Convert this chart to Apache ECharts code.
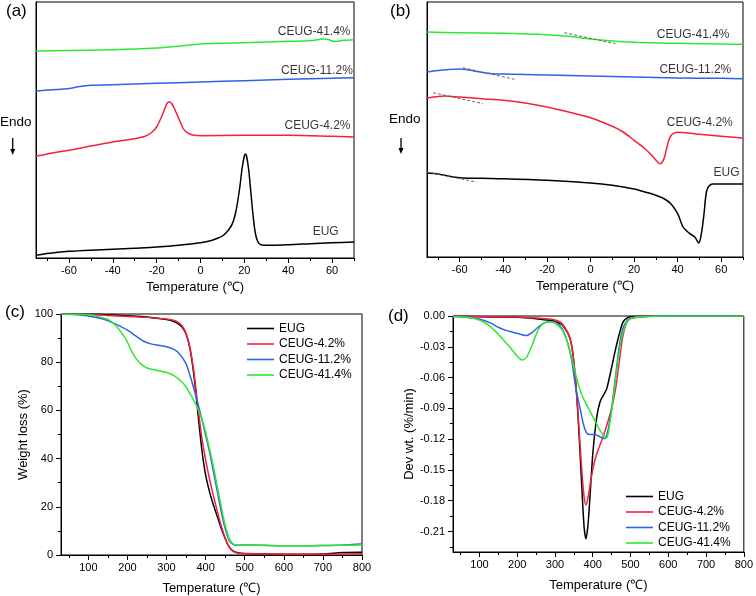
<!DOCTYPE html>
<html><head><meta charset="utf-8">
<script src="https://cdn.jsdelivr.net/npm/echarts@6/dist/echarts.min.js"></script>
<style>html,body{margin:0;padding:0;background:#fff}#c{width:756px;height:596px}</style>
</head><body><div id="c"></div>
<script>
// ---------- names ----------
const seriesNames = ['EUG', 'CEUG-4.2%', 'CEUG-11.2%', 'CEUG-41.4%'];

// ---------- tick labels ----------
const dscMajorTicks = [-60, -40, -20, 0, 20, 40, 60];
const dscMinorTicks = [-70, -50, -30, -10, 10, 30, 50, 70];
const tgaMajorTicks = [100, 200, 300, 400, 500, 600, 700, 800];
const tgaMinorTicks = [50, 150, 250, 350, 450, 550, 650, 750];
const dtgMajorTicksY = [0, -0.03, -0.06, -0.09, -0.12, -0.15, -0.18, -0.21];
const dtgMinorTicksY = [-0.015, -0.045, -0.075, -0.105, -0.135, -0.165, -0.195, -0.225];

// ---------- (a) DSC cooling, arbitrary heat-flow units ----------
const a_EUG = [[-75,2.7],[-70,4.5],[-65,5.8],[-60,6.7],[-50,7.8],[-40,8.7],[-30,9.8],[-20,11],[-10,12.8],[0,15.3],[5,17.5],[8,20],[10,22],[12,26],[14,32],[15,37],[16,45],[17,57],[18,72],[19,90],[20,102],[20.5,104],[21,102],[22,88],[23,65],[24,42],[25,25],[26,17],[27,14],[28,13],[30,12.8],[40,13.3],[50,14.3],[60,15.3],[70,16]];
const a_C42 = [[-75,101.7],[-70,104],[-65,106],[-60,107.7],[-50,112],[-40,116],[-30,119.3],[-25,122],[-22,126],[-20,131],[-18,140],[-17,145],[-16,151],[-15,155.5],[-14,156],[-13,154],[-12,150],[-11,145],[-10,140],[-9,135],[-8,130],[-7,127],[-5,124],[-3,122.7],[0,122.3],[20,122.7],[40,122.7],[60,121.7],[70,121]];
const a_C112 = [[-75,167],[-70,168],[-65,168.5],[-60,169.5],[-55,171.5],[-50,172.7],[-40,173.3],[-20,174.7],[0,176],[20,177.3],[40,178.7],[60,179.7],[70,180.3]];
const a_C414 = [[-75,207],[-60,207.5],[-40,208.3],[-20,210],[-10,211.7],[0,214],[10,214.8],[20,215.3],[40,216.7],[50,217.3],[54,218.5],[56,219],[58,218.7],[60,217],[61,216.5],[63,217],[65,217.7],[70,218.3]];
const a_labels = [['CEUG-41.4%', 68.4, 226], ['CEUG-11.2%', 69.5, 187.7], ['CEUG-4.2%', 68.4, 132], ['EUG', 63, 26]];

// ---------- (b) DSC heating ----------
const b_EUG = [[-75,84],[-70,83],[-67,81.7],[-60,79.3],[-50,78.7],[-40,78.3],[-20,76.7],[0,74],[10,71.7],[20,68],[25,65],[30,61.7],[34,58],[37,53],[40,43.3],[42.5,30],[44,26.5],[45.6,23.3],[47.9,20],[49.7,14],[50.9,23.3],[52.1,43],[53.2,65],[54.4,71],[56.2,73],[60,73],[70,73]];
const b_C42 = [[-75,159],[-70,160.5],[-67,161],[-60,160],[-50,158.3],[-40,156.7],[-30,154],[-20,150],[-10,145],[0,139.3],[10,130.7],[15,125],[20,116.7],[25,108.3],[28,102],[30,97],[31,94.5],[32,93.3],[33,95],[34,100],[35,109],[36,117],[37,121.5],[38,123.3],[40,124.7],[45,124],[50,122.7],[60,120.7],[70,119]];
const b_C112 = [[-75,185],[-70,186.5],[-65,187.5],[-60,188],[-57,187.5],[-55,186.7],[-50,184.7],[-45,183.3],[-40,183],[-20,182],[0,181],[20,180],[40,179],[60,178.7],[70,178.3]];
const b_C414 = [[-75,225],[-60,224.3],[-40,223.7],[-20,222.3],[-10,220.7],[0,218],[10,216],[20,214.7],[40,213.7],[60,213],[70,212.7]];
const b_tangents = [[[-12,224.3],[11.4,213.3]], [[-58.5,189.3],[-34.9,177.7]], [[-72.2,164.3],[-49.4,153.3]], [[-75,85],[-52.4,75]]];
const b_labels = [['CEUG-41.4%', 63.8, 222.7], ['CEUG-11.2%', 64.6, 187.3], ['CEUG-4.2%', 65.3, 134.3], ['EUG', 68.4, 84]];

// ---------- (c) TGA weight (%) ----------
const c_EUG = [[30,100],[100,100],[150,99.7],[200,99.3],[250,98.8],[300,97.7],[320,96.8],[330,95.9],[340,94.5],[350,91.7],[360,85.5],[370,74.5],[380,59.3],[390,44.1],[400,33.1],[410,26.2],[420,20.7],[430,15.9],[440,11],[450,6.9],[460,3.4],[470,1.7],[480,1],[500,0.6],[600,0.3],[700,0.4],[750,1],[800,1.1]];
const c_C42 = [[30,100],[100,99.8],[150,99.4],[200,99],[250,98.6],[300,97.9],[320,97.3],[330,96.5],[340,95],[350,92],[360,86],[370,76],[380,62],[390,49],[400,39.5],[410,31.5],[420,24.5],[430,18],[440,12],[450,7],[460,3.5],[470,1.5],[480,0.8],[500,0.5],[600,0.3],[700,0.3],[800,0.5]];
const c_C112 = [[30,100],[60,99.8],[100,99.2],[130,98.2],[150,97.2],[170,95.8],[200,93.3],[220,91],[240,88.8],[260,87.6],[280,87],[300,86.4],[320,85.2],[330,84],[340,82],[350,79.3],[360,74.5],[370,69],[380,63],[390,56.6],[400,49.7],[410,42.8],[420,34.5],[430,26.2],[440,17.9],[450,11],[460,6.2],[470,4.4],[480,4],[500,4.2],[600,3.8],[700,3.9],[800,4.6]];
const c_C414 = [[30,100],[100,99.8],[120,99.2],[150,97.7],[170,95.2],[190,91],[200,88.3],[210,84.8],[220,82],[230,80],[240,78.6],[250,77.6],[270,76.8],[300,75.7],[320,74.3],[340,71.7],[350,69.7],[360,66.9],[370,64.1],[380,60.7],[390,56.6],[400,51],[410,44.1],[420,36.6],[430,28.3],[440,20],[450,12.4],[460,6.9],[470,4.6],[480,4.1],[500,4.1],[600,3.8],[700,3.9],[800,4.2]];

// ---------- (d) DTG (%/min) ----------
const d_EUG = [[30,0],[100,-0.0007],[200,-0.0013],[250,-0.0026],[280,-0.004],[300,-0.0052],[320,-0.009],[340,-0.022],[350,-0.045],[360,-0.091],[370,-0.159],[377,-0.205],[382,-0.217],[387,-0.205],[392,-0.18],[400,-0.135],[410,-0.1],[419,-0.084],[430,-0.076],[437,-0.071],[450,-0.05],[460,-0.033],[470,-0.018],[480,-0.006],[490,-0.002],[500,-0.0007],[550,0],[800,0]];
const d_C42 = [[30,0],[100,-0.0005],[200,-0.001],[250,-0.002],[300,-0.004],[320,-0.008],[340,-0.022],[350,-0.045],[360,-0.09],[370,-0.145],[377,-0.176],[382,-0.184],[387,-0.178],[395,-0.16],[402,-0.146],[410,-0.135],[420,-0.125],[428,-0.117],[440,-0.103],[450,-0.09],[460,-0.072],[470,-0.045],[480,-0.019],[490,-0.006],[500,-0.002],[550,0],[800,0]];
const d_C112 = [[30,-0.0005],[60,-0.001],[80,-0.002],[100,-0.003],[130,-0.007],[150,-0.011],[170,-0.014],[190,-0.016],[210,-0.018],[225,-0.019],[240,-0.016],[255,-0.011],[270,-0.007],[285,-0.0055],[300,-0.006],[320,-0.013],[335,-0.028],[345,-0.045],[355,-0.07],[367,-0.091],[375,-0.105],[384,-0.114],[395,-0.1155],[405,-0.1155],[415,-0.117],[425,-0.119],[432,-0.1195],[440,-0.112],[450,-0.09],[460,-0.06],[470,-0.03],[480,-0.012],[490,-0.005],[500,-0.0025],[530,-0.001],[580,0],[800,0]];
const d_C414 = [[30,-0.0005],[60,-0.001],[80,-0.002],[100,-0.004],[120,-0.008],[140,-0.014],[160,-0.022],[180,-0.03],[200,-0.039],[213,-0.0428],[225,-0.04],[240,-0.028],[255,-0.014],[270,-0.007],[285,-0.0055],[300,-0.007],[320,-0.014],[335,-0.028],[350,-0.05],[360,-0.064],[370,-0.076],[380,-0.084],[390,-0.091],[400,-0.098],[410,-0.105],[420,-0.112],[430,-0.117],[437,-0.119],[445,-0.105],[455,-0.078],[465,-0.048],[475,-0.024],[485,-0.01],[495,-0.004],[510,-0.0015],[540,-0.0005],[580,0],[800,0]];

// ---------- styling ----------
const FONT = '"Liberation Sans", Arial, Helvetica, sans-serif';
const COLORS = ['#000000', '#f5203c', '#2d63e6', '#2ee82e'];
const LW = 1.5;

function majorX(g, min, max, majors, gap) {
  return { type: 'value', gridIndex: g, min: min, max: max, position: 'bottom',
    name: 'Temperature (\u2103)', nameLocation: 'middle', nameGap: gap,
    nameTextStyle: { fontSize: 13, color: '#000', fontFamily: FONT },
    axisLine: { show: true, onZero: false, lineStyle: { color: '#000', width: 1 } },
    axisTick: { show: true, inside: false, length: 5, customValues: majors, lineStyle: { color: '#000', width: 1 } },
    axisLabel: { show: true, customValues: majors, fontSize: 11, color: '#000', fontFamily: FONT, margin: 7 },
    splitLine: { show: false } };
}
function minorX(g, min, max, minors) {
  return { type: 'value', gridIndex: g, min: min, max: max, position: 'bottom',
    axisLine: { show: false, onZero: false },
    axisTick: { show: true, inside: false, length: 3, customValues: minors, lineStyle: { color: '#000', width: 1 } },
    axisLabel: { show: false }, splitLine: { show: false } };
}
function lineSeries(name, data, xi, yi, color) {
  return { type: 'line', name: name, data: data, xAxisIndex: xi, yAxisIndex: yi,
    showSymbol: false, symbol: 'none', smooth: 0.3,
    lineStyle: { color: color, width: LW, join: 'round' }, itemStyle: { color: color }, silent: true, z: 3 };
}
function labelSeries(labels, xi, yi) {
  return { type: 'scatter', xAxisIndex: xi, yAxisIndex: yi, symbolSize: 0, silent: true,
    data: labels.map(l => [l[1], l[2], l[0]]),
    label: { show: true, position: 'left', distance: 0, formatter: p => p.value[2],
      fontSize: 12, color: '#000', fontFamily: FONT } };
}

const grids = [
  { left: 36, top: 2, width: 318, height: 256 },
  { left: 427, top: 2, width: 316, height: 255 },
  { left: 61, top: 314, width: 301, height: 242 },
  { left: 453, top: 316, width: 293, height: 236 }
].map(g => Object.assign({ show: true, borderColor: '#000', borderWidth: 1, backgroundColor: 'transparent' }, g));

const xAxes = [
  majorX(0, -75, 70, dscMajorTicks, 23), minorX(0, -75, 70, dscMinorTicks),
  majorX(1, -75, 70, dscMajorTicks, 23), minorX(1, -75, 70, dscMinorTicks),
  majorX(2, 30, 800, tgaMajorTicks, 27), minorX(2, 30, 800, tgaMinorTicks),
  majorX(3, 30, 800, tgaMajorTicks, 27), minorX(3, 30, 800, tgaMinorTicks)
];

const plainY = (g, max) => ({ type: 'value', gridIndex: g, min: 0, max: max, position: 'left',
  axisLine: { show: true, onZero: false, lineStyle: { color: '#000', width: 1 } },
  axisTick: { show: false }, axisLabel: { show: false }, splitLine: { show: false } });

const yAxes = [
  plainY(0, 256),
  plainY(1, 255),
  { type: 'value', gridIndex: 2, min: 0, max: 100, interval: 20, position: 'left',
    name: 'Weight loss (%)', nameLocation: 'middle', nameGap: 31,
    nameTextStyle: { fontSize: 13, color: '#000', fontFamily: FONT },
    axisLine: { show: true, onZero: false, lineStyle: { color: '#000', width: 1 } },
    axisTick: { show: true, inside: false, length: 5, lineStyle: { color: '#000' } },
    minorTick: { show: true, splitNumber: 2, length: 3, lineStyle: { color: '#000' } },
    axisLabel: { fontSize: 11, color: '#000', fontFamily: FONT, margin: 8 },
    splitLine: { show: false } },
  { type: 'value', gridIndex: 3, min: -0.23, max: 0, position: 'left',
    name: 'Dev wt. (%/min)', nameLocation: 'middle', nameGap: 37,
    nameTextStyle: { fontSize: 13, color: '#000', fontFamily: FONT },
    axisLine: { show: true, onZero: false, lineStyle: { color: '#000', width: 1 } },
    axisTick: { show: true, inside: false, length: 5, customValues: dtgMajorTicksY, lineStyle: { color: '#000' } },
    axisLabel: { customValues: dtgMajorTicksY, fontSize: 11, color: '#000', fontFamily: FONT, margin: 8,
      formatter: v => Math.abs(v) < 1e-9 ? '0.00' : v.toFixed(2) },
    splitLine: { show: false } },
  { type: 'value', gridIndex: 3, min: -0.23, max: 0, position: 'left',
    axisLine: { show: false, onZero: false },
    axisTick: { show: true, inside: false, length: 3, customValues: dtgMinorTicksY, lineStyle: { color: '#000' } },
    axisLabel: { show: false }, splitLine: { show: false } }
];

const aData = [a_EUG, a_C42, a_C112, a_C414];
const bData = [b_EUG, b_C42, b_C112, b_C414];
const cData = [c_EUG, c_C42, c_C112, c_C414];
const dData = [d_EUG, d_C42, d_C112, d_C414];

const series = [];
aData.forEach((d, i) => series.push(lineSeries('a ' + seriesNames[i], d, 0, 0, COLORS[i])));
bData.forEach((d, i) => series.push(lineSeries('b ' + seriesNames[i], d, 2, 1, COLORS[i])));
b_tangents.forEach(t => series.push({ type: 'line', data: t, xAxisIndex: 2, yAxisIndex: 1, symbol: 'none', silent: true,
  lineStyle: { color: '#666', width: 1, type: [3, 2] }, z: 4 }));
cData.forEach((d, i) => series.push(lineSeries(seriesNames[i], d, 4, 2, COLORS[i])));
dData.forEach((d, i) => series.push(lineSeries(seriesNames[i], d, 6, 3, COLORS[i])));
series.push(labelSeries(a_labels, 0, 0));
series.push(labelSeries(b_labels, 2, 1));

const legendBase = { data: seriesNames, orient: 'vertical', icon: 'rect', itemWidth: 27, itemHeight: 1.6, itemGap: 2.5,
  padding: 0, selectedMode: false, textStyle: { fontSize: 12, color: '#000', fontFamily: FONT, lineHeight: 13 } };

function arrow(x, y1, y2) {
  return [
    { type: 'line', shape: { x1: x, y1: y1, x2: x, y2: y2 - 4 }, style: { stroke: '#000', lineWidth: 1.3 } },
    { type: 'polygon', shape: { points: [[x - 2.5, y2 - 6], [x + 2.5, y2 - 6], [x, y2]] }, style: { fill: '#000' } }
  ];
}
const txt = (t, x, y, size) => ({ type: 'text', left: x, top: y,
  style: { text: t, fontSize: size, fill: '#000', font: size + 'px ' + FONT } });

const graphic = [
  txt('(a)', 6, 3, 17), txt('(b)', 390, 3, 17), txt('(c)', 5, 304, 17), txt('(d)', 388, 308, 17),
  txt('Endo', 0, 115, 13.5), txt('Endo', 389, 112, 13.5),
  ...arrow(12.7, 138, 155), ...arrow(401, 138, 154)
];

const chart = echarts.init(document.getElementById('c'), null, { renderer: 'canvas' });
chart.setOption({
  animation: false,
  backgroundColor: '#fff',
  textStyle: { fontFamily: FONT },
  grid: grids,
  xAxis: xAxes,
  yAxis: yAxes,
  legend: [
    Object.assign({ left: 247, top: 322 }, legendBase),
    Object.assign({ left: 626, top: 490 }, legendBase)
  ],
  graphic: graphic,
  series: series
});
</script></body></html>
